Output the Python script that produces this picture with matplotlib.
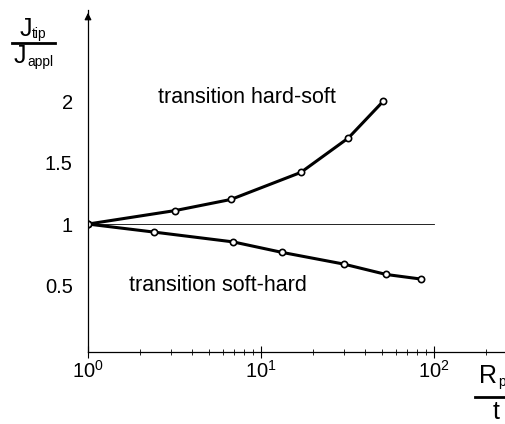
import matplotlib
matplotlib.use('Agg')
import matplotlib.pyplot as plt
from matplotlib.lines import Line2D

plt.rcParams['font.family'] = ['Liberation Sans', 'DejaVu Sans']
plt.rcParams['mathtext.fontset'] = 'custom'
plt.rcParams['mathtext.rm'] = 'Liberation Sans'

# hard-soft transition
x_hs = [1.0, 3.2, 6.7, 17.0, 32.0, 51.0]
y_hs = [1.0, 1.11, 1.20, 1.42, 1.70, 2.0]

# soft-hard transition
x_sh = [1.0, 2.4, 6.9, 13.2, 30.0, 53.0, 84.0]
y_sh = [1.0, 0.935, 0.855, 0.77, 0.675, 0.59, 0.553]

yticks = [0.5, 1, 1.5, 2]
ytick_labels = ['0.5', '1', '1.5', '2']
xticks = [1, 10, 100]
xtick_labels = [r'$\mathregular{10^{0}}$', r'$\mathregular{10^{1}}$', r'$\mathregular{10^{2}}$']

fig = plt.figure(figsize=(5.06, 4.24), dpi=100)
ax = fig.add_axes([88/506, 72/424, 418/506, 342/424])

ax.set_xscale('log')
ax.set_xlim(1, 10**2.416)
ax.set_ylim(-0.04, 2.74)

# reference line at 1
ax.plot([1, 100], [1, 1], color='black', lw=0.6)

for xs, ys in [(x_hs, y_hs), (x_sh, y_sh)]:
    ax.plot(xs, ys, color='black', lw=2.2, marker='o', ms=4.5,
            mfc='white', mec='black', mew=1.2)

ax.text(8.3, 2.03, 'transition hard-soft', fontsize=15.5, ha='center', va='center')
ax.text(5.6, 0.50, 'transition soft-hard', fontsize=15.5, ha='center', va='center')

for s in ['top', 'right']:
    ax.spines[s].set_visible(False)
ax.spines['left'].set_linewidth(0.9)
ax.spines['bottom'].set_linewidth(0.9)

# arrow head on the y axis
ax.annotate('', xy=(0, 1.0), xycoords='axes fraction', xytext=(0, 0.97),
            arrowprops=dict(arrowstyle='-|>', color='black', lw=0.9,
                            mutation_scale=10))

ax.set_yticks(yticks)
ax.set_yticklabels(ytick_labels, fontsize=14.5)
ax.set_xticks(xticks)
ax.set_xticklabels(xtick_labels, fontsize=14.5)
ax.tick_params(axis='x', which='major', direction='inout', length=8, width=0.8, pad=2)
ax.tick_params(axis='x', which='minor', direction='inout', length=5, width=0.6)
ax.tick_params(axis='y', which='major', direction='in', length=0, pad=11)

# y label as a fraction
fig.text(20/506, 1 - 29/424, 'J', fontsize=18, ha='left', va='center')
fig.text(32/506, 1 - 34/424, 'tip', fontsize=10, ha='left', va='center')
fig.add_artist(Line2D([12/506, 55/506], [1 - 43/424, 1 - 43/424], color='black', lw=2))
fig.text(14/506, 1 - 56/424, 'J', fontsize=18, ha='left', va='center')
fig.text(27/506, 1 - 62/424, 'appl', fontsize=10, ha='left', va='center')

# x label as a fraction
fig.text(479/506, 1 - 376/424, 'R', fontsize=18, ha='left', va='center')
fig.text(498/506, 1 - 382/424, 'p', fontsize=10, ha='left', va='center')
fig.add_artist(Line2D([475/506, 1.0], [1 - 397/424, 1 - 397/424], color='black', lw=2))
fig.text(496/506, 1 - 412/424, 't', fontsize=18, ha='center', va='center')

fig.savefig('out.png', dpi=100)
